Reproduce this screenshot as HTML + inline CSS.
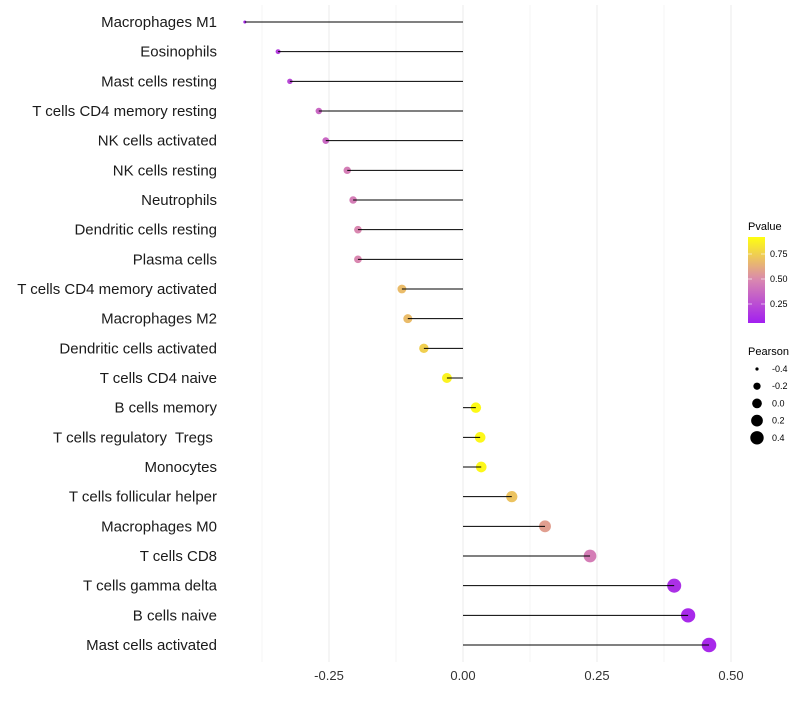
<!DOCTYPE html>
<html><head><meta charset="utf-8"><style>
body{margin:0;background:#fff;width:800px;height:700px;overflow:hidden;font-family:"Liberation Sans",sans-serif}
</style></head><body>
<svg id="chart" width="800" height="700" xmlns="http://www.w3.org/2000/svg" font-family="Liberation Sans, sans-serif">
<g id="grid"></g>
<g id="dots"></g>
<g id="marks"></g>
<g id="ylabels"></g>
<g id="xlabels"></g>
<g>
<defs><linearGradient id="pg" x1="0" y1="1" x2="0" y2="0">
<stop offset="0" stop-color="#a21ff0"/><stop offset="0.5" stop-color="#d987b0"/><stop offset="1" stop-color="#ffff10"/></linearGradient></defs>
<text x="748" y="230" font-size="11" fill="#000">Pvalue</text>
<rect x="748" y="237" width="17" height="86" fill="url(#pg)"/>
<line x1="748" y1="254" x2="752" y2="254" stroke="#fff" stroke-opacity="0.6"/><line x1="761" y1="254" x2="765" y2="254" stroke="#fff" stroke-opacity="0.6"/>
<line x1="748" y1="279" x2="752" y2="279" stroke="#fff" stroke-opacity="0.6"/><line x1="761" y1="279" x2="765" y2="279" stroke="#fff" stroke-opacity="0.6"/>
<line x1="748" y1="304" x2="752" y2="304" stroke="#fff" stroke-opacity="0.6"/><line x1="761" y1="304" x2="765" y2="304" stroke="#fff" stroke-opacity="0.6"/>
<text x="770" y="257" font-size="9">0.75</text><text x="770" y="282" font-size="9">0.50</text><text x="770" y="307" font-size="9">0.25</text>
</g>
<g id="sizeleg">
<text x="748" y="355" font-size="11" fill="#000">Pearson</text>
</g>
</svg>
<script>
const categories=["Macrophages M1","Eosinophils","Mast cells resting","T cells CD4 memory resting","NK cells activated","NK cells resting","Neutrophils","Dendritic cells resting","Plasma cells","T cells CD4 memory activated","Macrophages M2","Dendritic cells activated","T cells CD4 naive","B cells memory","T cells regulatory  Tregs ","Monocytes","T cells follicular helper","Macrophages M0","T cells CD8","T cells gamma delta","B cells naive","Mast cells activated"];
const pearson=[-0.407,-0.345,-0.323,-0.269,-0.256,-0.216,-0.205,-0.196,-0.196,-0.114,-0.103,-0.073,-0.030,0.024,0.032,0.034,0.091,0.153,0.237,0.394,0.420,0.459];
const pvalue=[0.05,0.15,0.2,0.35,0.35,0.45,0.45,0.5,0.5,0.72,0.72,0.8,0.95,0.98,0.97,0.97,0.75,0.6,0.45,0.08,0.05,0.05];
const xTicks=[-0.25,0,0.25,0.5];
const xTickLabels=["-0.25","0.00","0.25","0.50"];
const sizeLegendValues=[-0.4,-0.2,0.0,0.2,0.4];
const sizeLegendLabels=["-0.4","-0.2","0.0","0.2","0.4"];
const NS="http://www.w3.org/2000/svg";
const x=v=>463+v*536;
const y=i=>22+i*(623/21);
const r=p=>Math.sqrt(Math.max(1,26.3+58.7*p));
function col(t){const a=[162,31,240],b=[217,135,176],c=[255,255,16];let s,e,u;if(t<0.5){s=a;e=b;u=t/0.5}else{s=b;e=c;u=(t-0.5)/0.5}return "rgb("+s.map((v,k)=>Math.round(v+(e[k]-v)*u)).join(",")+")"}
function mk(tag,at,parent){const el=document.createElementNS(NS,tag);for(const k in at)el.setAttribute(k,at[k]);parent.appendChild(el);return el}
const grid=document.getElementById('grid'),marks=document.getElementById('marks'),dots=document.getElementById('dots'),yl=document.getElementById('ylabels'),xl=document.getElementById('xlabels');
for(let v=-0.375;v<=0.5;v+=0.125){const l=mk('line',{x1:x(v),x2:x(v),y1:5,y2:662,stroke:'#ebebeb','stroke-width':(Math.abs(v*4-Math.round(v*4))<1e-6)?1:0.5},grid);}
xTicks.forEach((v,i)=>{const t=mk('text',{x:x(v),y:680,'font-size':13,'text-anchor':'middle',fill:'#333'},xl);t.textContent=xTickLabels[i];});
categories.forEach((c,i)=>{
 const t=mk('text',{x:217,y:y(i)+5,'font-size':15,'text-anchor':'end',fill:'#1a1a1a',style:'white-space:pre'},yl);t.textContent=c;
 const d=mk('circle',{cx:x(pearson[i]),cy:y(i),r:r(pearson[i]),fill:col(pvalue[i])},dots);
 const l=mk('line',{x1:x(0),x2:x(pearson[i]),y1:y(i),y2:y(i),stroke:'#000','stroke-width':1},marks);
});
const sl=document.getElementById('sizeleg');
sizeLegendValues.forEach((v,i)=>{const cy=369+i*17.2;const d=mk('circle',{cx:757,cy:cy,r:r(v)*0.95,fill:'#000'},sl);
const t=mk('text',{x:772,y:cy+3,'font-size':9},sl);t.textContent=sizeLegendLabels[i];});
</script>
</body></html>
